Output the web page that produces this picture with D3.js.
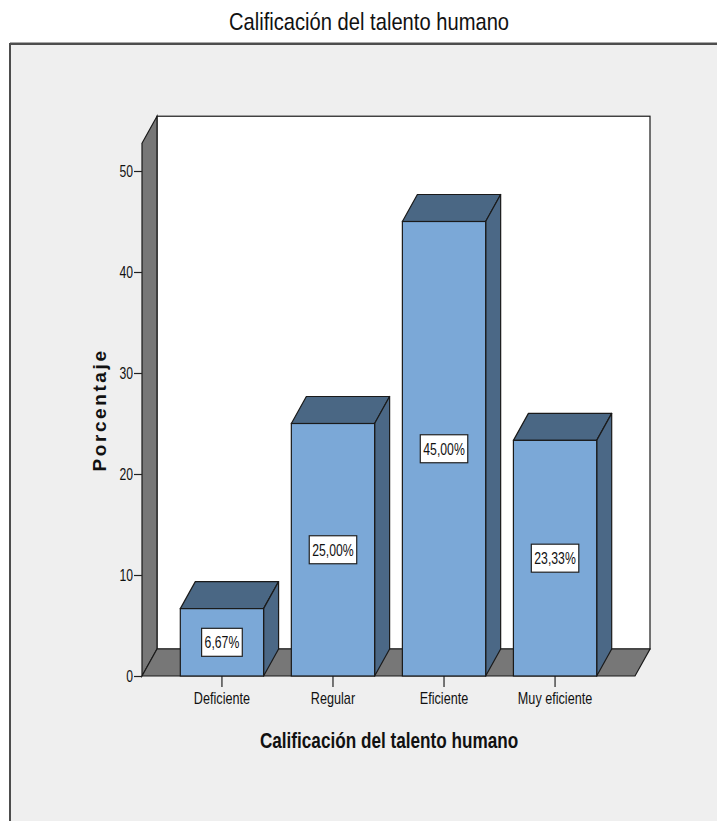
<!DOCTYPE html>
<html>
<head>
<meta charset="utf-8">
<script src="https://cdn.jsdelivr.net/npm/d3@7"></script>
<style>
  html, body { margin: 0; padding: 0; background: #ffffff; }
  svg { display: block; }
  text { font-family: 'Liberation Sans', Arial, sans-serif; }
</style>
</head>
<body>
<svg id="chart" width="717" height="821"></svg>
<script>
// Calificación del talento humano — porcentaje por categoría
const categories = ["Deficiente", "Regular", "Eficiente", "Muy eficiente"];
const percentages = [6.67, 25.00, 45.00, 23.33];
const yTicks = [0, 10, 20, 30, 40, 50];

const chartTitle = "Calificación del talento humano";
const xTitle = "Calificación del talento humano";
const yTitle = "Porcentaje";

const W = 717, H = 821;
const svg = d3.select("#chart");

// Condensed text: horizontally squeezed sans-serif
function ntext(parent, x, y, sx) {
  return parent.append("text")
    .attr("transform", `translate(${x},${y}) scale(${sx},1)`);
}

// Outer panel
svg.append("rect").attr("x", 10).attr("y", 44).attr("width", W + 20).attr("height", H)
  .attr("fill", "#efefef").attr("stroke", "#4d4d4d").attr("stroke-width", 2);
svg.append("line").attr("x1", 10).attr("x2", W).attr("y1", 42.5).attr("y2", 42.5)
  .attr("stroke", "#a8a8a8").attr("stroke-width", 1);

ntext(svg, 369, 30, 0.84)
  .attr("text-anchor", "middle").attr("font-size", 24).attr("fill", "#111")
  .text(chartTitle);

// 3D frame geometry
const left = 142, right = 635;       // front plane x-extent
const depthX = 15, depthY = 27;      // depth offset of the back plane
const yAxisMax = 52.75;              // top of the walls, in data units

const y = d3.scaleLinear().domain([0, 50]).range([676, 171]);
const x = d3.scaleBand().domain(categories).range([left, right])
  .paddingInner(0.25).paddingOuter(0.345);

const y0 = y(0), yTop = y(yAxisMax);
const wallColor = "#777777";
const edge = "#1a1a1a";

// Back wall
svg.append("rect")
  .attr("x", left + depthX).attr("y", yTop - depthY)
  .attr("width", right - left).attr("height", y0 - yTop)
  .attr("fill", "#ffffff").attr("stroke", edge).attr("stroke-width", 1.2);

// Left side wall
svg.append("path")
  .attr("d", d3.line()([
    [left, yTop], [left + depthX, yTop - depthY],
    [left + depthX, y0 - depthY], [left, y0]
  ]) + "Z")
  .attr("fill", wallColor).attr("stroke", edge).attr("stroke-width", 1.2);

// Floor
svg.append("path")
  .attr("d", d3.line()([
    [left, y0], [left + depthX, y0 - depthY],
    [right + depthX, y0 - depthY], [right, y0]
  ]) + "Z")
  .attr("fill", wallColor).attr("stroke", edge).attr("stroke-width", 1.2);

// Y axis
const tickSx = 0.76;
const yAxis = d3.axisLeft(y).tickValues(yTicks).tickSize(8).tickPadding(1);
const gy = svg.append("g").attr("transform", `translate(${left},0)`).call(yAxis);
gy.select(".domain").remove();
gy.selectAll(".tick line").attr("stroke", "#222").attr("stroke-width", 1.2);
gy.selectAll(".tick text")
  .attr("font-size", 16).attr("fill", "#111")
  .attr("x", -9 / tickSx).attr("transform", `scale(${tickSx},1)`);

// X axis ticks & labels
const catSx = 0.79;
const xAxis = d3.axisBottom(x).tickSize(11).tickPadding(6);
const gx = svg.append("g").attr("transform", `translate(0,${y0})`).call(xAxis);
gx.select(".domain").remove();
gx.selectAll(".tick line").attr("stroke", "#222").attr("stroke-width", 1.2);
gx.selectAll(".tick text")
  .attr("font-size", 16).attr("fill", "#111")
  .attr("transform", `scale(${catSx},1)`);

// Bars
const frontColor = "#7ba8d7", topColor = "#4a6784", sideColor = "#4b6886";
const bars = svg.append("g").selectAll("g").data(categories.map((c, i) => ({ c, v: percentages[i] })))
  .join("g");

bars.each(function (d) {
  const g = d3.select(this);
  const x0 = x(d.c), x1 = x0 + x.bandwidth();
  const yt = y(d.v);
  // top face
  g.append("path")
    .attr("d", d3.line()([[x0, yt], [x0 + depthX, yt - depthY], [x1 + depthX, yt - depthY], [x1, yt]]) + "Z")
    .attr("fill", topColor).attr("stroke", edge).attr("stroke-width", 1.2).attr("stroke-linejoin", "round");
  // side face
  g.append("path")
    .attr("d", d3.line()([[x1, yt], [x1 + depthX, yt - depthY], [x1 + depthX, y0 - depthY], [x1, y0]]) + "Z")
    .attr("fill", sideColor).attr("stroke", edge).attr("stroke-width", 1.2).attr("stroke-linejoin", "round");
  // front face
  g.append("rect").attr("x", x0).attr("y", yt).attr("width", x1 - x0).attr("height", y0 - yt)
    .attr("fill", frontColor).attr("stroke", edge).attr("stroke-width", 1.2);
});

// Value labels
const fmt = v => d3.format(".2f")(v).replace(".", ",") + "%";
const valSx = 0.72;
bars.each(function (d) {
  const g = d3.select(this);
  const cx = x(d.c) + x.bandwidth() / 2;
  const cy = (y(d.v) + y0) / 2;
  const box = g.append("rect");
  const t = ntext(g, cx, cy, valSx)
    .attr("dy", "0.36em")
    .attr("text-anchor", "middle").attr("font-size", 17).attr("fill", "#111")
    .text(fmt(d.v));
  const w = t.node().getBBox().width * valSx;
  box.attr("x", cx - w / 2 - 3).attr("y", cy - 14)
    .attr("width", w + 6).attr("height", 28)
    .attr("fill", "#ffffff").attr("stroke", "#222").attr("stroke-width", 1.2);
});

// Axis titles
ntext(svg, 389, 748, 0.78)
  .attr("text-anchor", "middle")
  .attr("font-size", 22).attr("font-weight", "bold").attr("fill", "#111")
  .text(xTitle);

svg.append("text")
  .attr("transform", `translate(106,410) rotate(-90)`)
  .attr("text-anchor", "middle")
  .attr("font-size", 19).attr("font-weight", "bold").attr("letter-spacing", 2.6)
  .attr("fill", "#111").text(yTitle);
</script>
</body>
</html>
